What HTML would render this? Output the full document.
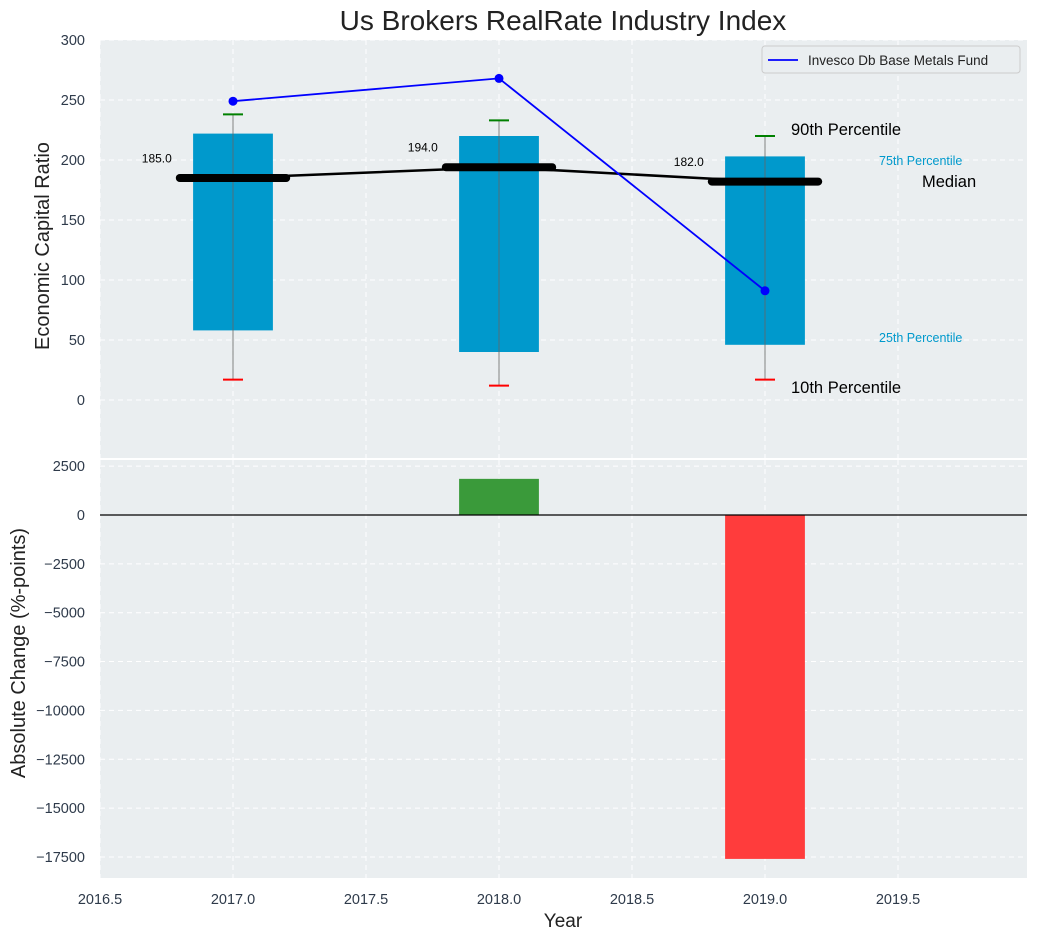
<!DOCTYPE html>
<html><head><meta charset="utf-8"><style>
body{margin:0;background:#fff;font-family:"Liberation Sans",sans-serif}
</style></head><body>
<svg id="c" width="1038" height="940" xmlns="http://www.w3.org/2000/svg" font-family="Liberation Sans, sans-serif"></svg>
<script>
const years=[2017,2018,2019];
const p10=[17,12,17];
const p25=[58,40,46];
const medians=[185,194,182];
const p75=[222,220,203];
const p90=[238,233,220];
const fund=[249,268,91];
const changes=[0,1850,-17600];
const xTicks=[2016.5,2017.0,2017.5,2018.0,2018.5,2019.0,2019.5];
const yTopTicks=[0,50,100,150,200,250,300];
const yBotTicks=[2500,0,-2500,-5000,-7500,-10000,-12500,-15000,-17500];

const svg=document.getElementById('c');const NS='http://www.w3.org/2000/svg';
function el(t,a,p){const e=document.createElementNS(NS,t);for(const k in a)e.setAttribute(k,a[k]);(p||svg).appendChild(e);return e;}
const L=100,R=1027;
const X=v=>L+(v-2016.5)*266;
const T0=40,T1=458,yT=v=>400-v*1.2;
const B0=460,B1=878,yB=v=>515-v*0.01954;
const TC='#2e3a4a';
const fmt=v=>String(v).replace('-','\u2212');

let bgT=el('rect',{x:L,y:T0,width:R-L,height:T1-T0,fill:'#eaeef0'});

let bgB=el('rect',{x:L,y:B0,width:R-L,height:B1-B0,fill:'#eaeef0'});


xTicks.forEach(v=>{
 [[T0,T1],[B0,B1]].forEach(r=>{let g=el('line',{x1:X(v),x2:X(v),y1:r[0],y2:r[1],stroke:'#fff','stroke-dasharray':'5,4'});});
 let t=el('text',{x:X(v),y:904,'text-anchor':'middle','font-size':14.5,fill:TC});t.textContent=v.toFixed(1);
 
});
yTopTicks.forEach(v=>{
 let g=el('line',{x1:L,x2:R,y1:yT(v),y2:yT(v),stroke:'#fff','stroke-dasharray':'5,4'});
 let t=el('text',{x:85,y:yT(v)+5,'text-anchor':'end','font-size':14.5,fill:TC});t.textContent=fmt(v);
 
});
yBotTicks.forEach(v=>{
 let g=el('line',{x1:L,x2:R,y1:yB(v),y2:yB(v),stroke:'#fff','stroke-dasharray':'5,4'});
 let t=el('text',{x:85,y:yB(v)+5,'text-anchor':'end','font-size':14.5,fill:TC});t.textContent=fmt(v);
 
});

years.forEach((yr,i)=>{
 let b=el('rect',{x:X(yr-0.15),y:yT(p75[i]),width:X(yr+0.15)-X(yr-0.15),height:yT(p25[i])-yT(p75[i]),fill:'#0099cc'});
 
 let w=el('line',{x1:X(yr),x2:X(yr),y1:yT(p90[i]),y2:yT(p10[i]),stroke:'#666','stroke-width':1,opacity:0.8});
 
 let c1=el('line',{x1:X(yr)-10,x2:X(yr)+10,y1:yT(p90[i]),y2:yT(p90[i]),stroke:'green','stroke-width':2});
 
 let c2=el('line',{x1:X(yr)-10,x2:X(yr)+10,y1:yT(p10[i]),y2:yT(p10[i]),stroke:'red','stroke-width':2});
 
});
let ml=el('polyline',{points:years.map((y,i)=>X(y)+','+yT(medians[i])).join(' '),fill:'none',stroke:'#000','stroke-width':2.5});

years.forEach((yr,i)=>{
 let m=el('line',{x1:X(yr-0.2),x2:X(yr+0.2),y1:yT(medians[i]),y2:yT(medians[i]),stroke:'#000','stroke-width':8,'stroke-linecap':'round'});
 
 let t=el('text',{x:X(yr-0.23),y:yT(medians[i]+13),'text-anchor':'end','font-size':12,fill:'#000'});t.textContent=medians[i].toFixed(1);
 
});
let fl=el('polyline',{points:years.map((y,i)=>X(y)+','+yT(fund[i])).join(' '),fill:'none',stroke:'blue','stroke-width':1.8});

years.forEach((yr,i)=>{let d=el('circle',{cx:X(yr),cy:yT(fund[i]),r:4.5,fill:'blue'});});

const ann=[[791,135,'90th Percentile',16.5,'#000'],[791,393,'10th Percentile',16.5,'#000'],[879,165,'75th Percentile',12.5,'#0099cc'],[879,342,'25th Percentile',12.5,'#0099cc'],[922,187,'Median',16.5,'#000']];
ann.forEach(a=>{let t=el('text',{x:a[0],y:a[1],'font-size':a[3],fill:a[4]});t.textContent=a[2];});

years.forEach((yr,i)=>{
 if(!changes[i])return;
 let y0=yB(Math.max(0,changes[i])),y1=yB(Math.min(0,changes[i]));
 let b=el('rect',{x:X(yr-0.15),y:y0,width:X(yr+0.15)-X(yr-0.15),height:y1-y0,fill:changes[i]>0?'#3a9a3a':'#ff3c3c'});
 
});
let zl=el('line',{x1:L,x2:R,y1:yB(0),y2:yB(0),stroke:'#000','stroke-width':1.2});


let lg=el('g',{});
el('rect',{x:762,y:46,width:258,height:27,fill:'#eaeef0',stroke:'#ccc',rx:3},lg);
el('line',{x1:768,x2:798,y1:60,y2:60,stroke:'blue','stroke-width':1.8},lg);
let lt=el('text',{x:808,y:65,'font-size':13.5,fill:'#222'},lg);lt.textContent='Invesco Db Base Metals Fund';

let tt=el('text',{x:563,y:30,'text-anchor':'middle','font-size':28,fill:'#222'});tt.textContent='Us Brokers RealRate Industry Index';

let xl=el('text',{x:563,y:927,'text-anchor':'middle','font-size':19,fill:'#222'});xl.textContent='Year';

let y1=el('text',{x:49,y:246,'text-anchor':'middle','font-size':20,fill:'#222',transform:'rotate(-90 49 246)'});y1.textContent='Economic Capital Ratio';

let y2=el('text',{x:25,y:653,'text-anchor':'middle','font-size':20,fill:'#222',transform:'rotate(-90 25 653)'});y2.textContent='Absolute Change (%-points)';

</script>
</body></html>
